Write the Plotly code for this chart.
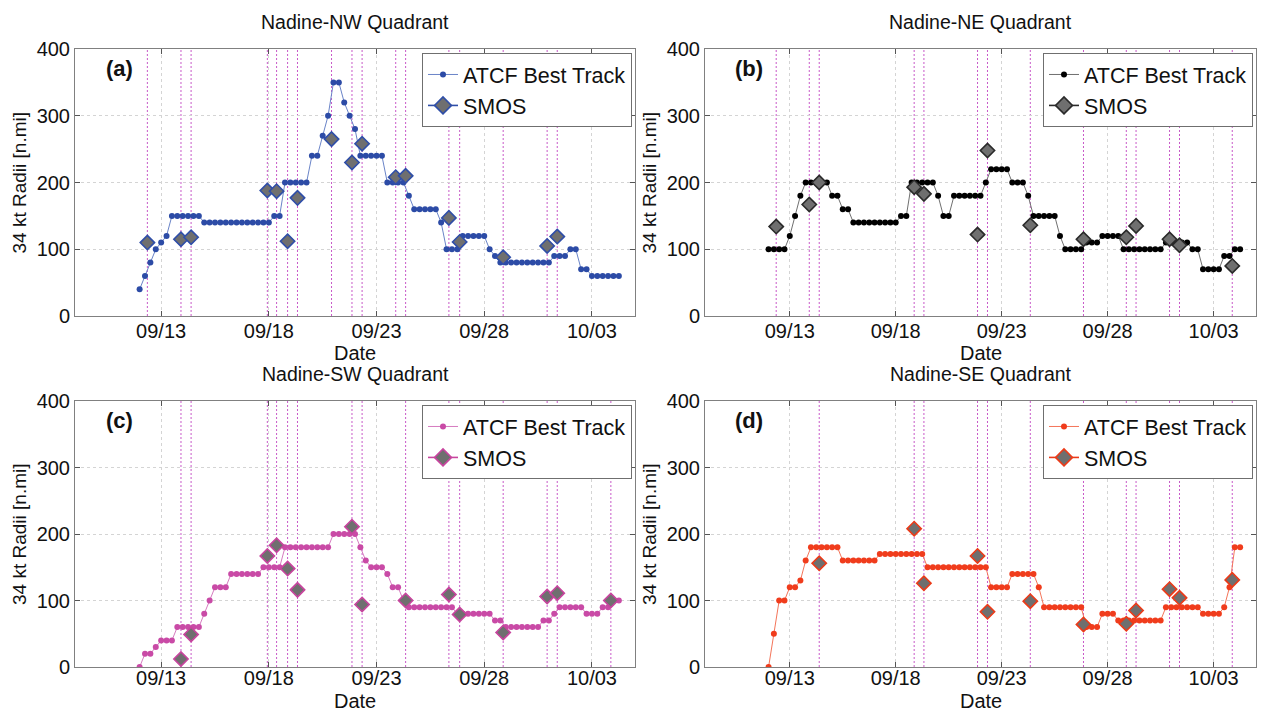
import plotly.graph_objects as go
import pandas as pd

# ---------------- data ----------------
track_start = "2012-09-12 00:00"   # ATCF best track, 6-hourly
n_track = 90

nw_track = [40, 60, 80, 100, 110, 120] + [150]*6 + [140]*13 + [150]*2 + [200]*5 + [240]*2 + [270, 300, 350, 350, 320, 300, 280] \
    + [240]*5 + [200]*4 + [180] + [160]*5 + [140] + [100]*3 + [120]*5 + [100, 90] + [80]*10 + [90]*3 + [100]*2 + [70]*2 + [60]*6
ne_track = [100]*4 + [120, 150, 180] + [200]*5 + [180]*2 + [160]*2 + [140]*9 + [150]*2 + [200]*5 + [180] + [150]*2 + [180]*6 + [200] \
    + [220]*4 + [200]*3 + [180] + [150]*5 + [120] + [100]*4 + [110]*3 + [120]*4 + [100]*8 + [110]*5 + [100]*2 + [70]*4 + [90]*2 + [100]*2
sw_track = [0, 20, 20, 30, 40, 40, 40] + [60]*5 + [80, 100] + [120]*3 + [140]*6 + [150]*4 + [180]*9 + [200]*5 + [180, 160] + [150]*3 \
    + [140] + [120]*2 + [100] + [90]*9 + [80]*7 + [70]*2 + [60]*7 + [70]*2 + [80] + [90]*5 + [80]*3 + [90]*2 + [100]*2
se_track = [0, 50, 100, 100, 120, 120, 130, 160] + [180]*6 + [160]*7 + [170]*9 + [150]*12 + [120]*4 + [140]*5 + [120] + [90]*8 \
    + [60]*3 + [80]*3 + [70]*9 + [90]*7 + [80]*4 + [90, 120, 180, 180]

nw_smos_t = ["2012-09-12 08:38", "2012-09-13 22:05", "2012-09-14 09:22", "2012-09-17 22:19", "2012-09-18 08:38",
             "2012-09-18 20:53", "2012-09-19 07:55", "2012-09-20 21:50", "2012-09-21 20:38", "2012-09-22 07:55",
             "2012-09-23 21:22", "2012-09-24 08:24", "2012-09-26 08:38", "2012-09-26 20:38", "2012-09-28 21:07",
             "2012-09-30 22:05", "2012-10-01 09:22"]
nw_smos = [110, 115, 118, 188, 187, 112, 177, 265, 230, 258, 208, 210, 147, 111, 88, 105, 119]

ne_smos_t = ["2012-09-12 08:38", "2012-09-13 22:05", "2012-09-14 09:22", "2012-09-18 20:53", "2012-09-19 07:55",
             "2012-09-21 20:38", "2012-09-22 07:55", "2012-09-24 08:24", "2012-09-26 20:38", "2012-09-28 21:07",
             "2012-09-29 08:10", "2012-09-30 22:05", "2012-10-01 09:22", "2012-10-03 21:07"]
ne_smos = [134, 167, 200, 193, 183, 122, 248, 136, 115, 118, 135, 115, 106, 75]

sw_smos_t = ["2012-09-13 22:05", "2012-09-14 09:22", "2012-09-17 22:19", "2012-09-18 08:38", "2012-09-18 20:53",
             "2012-09-19 07:55", "2012-09-21 20:38", "2012-09-22 07:55", "2012-09-24 08:24", "2012-09-26 08:38",
             "2012-09-26 20:38", "2012-09-28 21:07", "2012-09-30 22:05", "2012-10-01 09:22", "2012-10-03 21:07"]
sw_smos = [12, 49, 167, 183, 148, 116, 211, 94, 100, 109, 79, 52, 106, 111, 100]

se_smos_t = ["2012-09-14 09:22", "2012-09-18 20:53", "2012-09-19 07:55", "2012-09-21 20:38", "2012-09-22 07:55",
             "2012-09-24 08:24", "2012-09-26 20:38", "2012-09-28 21:07", "2012-09-29 08:10", "2012-09-30 22:05",
             "2012-10-01 09:22", "2012-10-03 21:07"]
se_smos = [156, 208, 126, 167, 83, 99, 64, 65, 85, 117, 104, 131]

titles = ["Nadine-NW Quadrant", "Nadine-NE Quadrant", "Nadine-SW Quadrant", "Nadine-SE Quadrant"]
labels = ["(a)", "(b)", "(c)", "(d)"]
date_ticks = ["2012-09-13", "2012-09-18", "2012-09-23", "2012-09-28", "2012-10-03"]
date_ticktext = ["09/13", "09/18", "09/23", "09/28", "10/03"]
y_ticks = [0, 100, 200, 300, 400]
x_range = ["2012-09-09", "2012-10-05"]

# ---------------- style ----------------
track_marker = ["#2c4ba6", "#000000", "#c94aa6", "#f03c1c"]
track_line = ["#6a84c8", "#707070", "#d67cc0", "#f4755a"]
smos_edge = ["#2f4ea8", "#2a2a2a", "#c8449e", "#ec3a18"]
smos_fill = "#6f6f6f"
vline_color = "rgba(190,60,190,0.85)"
FONT = "Liberation Sans, Arial, sans-serif"

W, H = 1261, 713
xdom = [[75 / W, 635 / W], [705 / W, 1256 / W], [75 / W, 635 / W], [705 / W, 1256 / W]]
ydom = [[1 - 316 / H, 1 - 49 / H], [1 - 316 / H, 1 - 49 / H], [1 - 667 / H, 1 - 401 / H], [1 - 667 / H, 1 - 401 / H]]
date_px = [37, 37, 34, 34]
tick_standoff = [-3, -3, -7, -7]

track_times = pd.date_range(track_start, periods=n_track, freq="6h")
tracks = [nw_track, ne_track, sw_track, se_track]
smos_ts = [nw_smos_t, ne_smos_t, sw_smos_t, se_smos_t]
smos_vals = [nw_smos, ne_smos, sw_smos, se_smos]

fig = go.Figure()
legends = ["legend", "legend2", "legend3", "legend4"]
shapes = []
annotations = []
for k in range(4):
    sfx = "" if k == 0 else str(k + 1)
    xa, ya = "x" + sfx, "y" + sfx
    fig.add_trace(go.Scatter(
        x=track_times, y=tracks[k], mode="lines+markers", name="ATCF Best Track",
        line=dict(color=track_line[k], width=1), marker=dict(color=track_marker[k], size=6),
        xaxis=xa, yaxis=ya, legend=legends[k]))
    fig.add_trace(go.Scatter(
        x=pd.to_datetime(smos_ts[k]), y=smos_vals[k], mode="markers", name="SMOS", showlegend=False,
        marker=dict(symbol="diamond", size=11, color=smos_fill, line=dict(color=smos_edge[k], width=1.6)),
        xaxis=xa, yaxis=ya, legend=legends[k]))
    # legend entry (line + diamond) for SMOS, no data
    fig.add_trace(go.Scatter(
        x=[None], y=[None], mode="lines+markers", name="SMOS",
        line=dict(color=smos_edge[k], width=1.6),
        marker=dict(symbol="diamond", size=13, color=smos_fill, line=dict(color=smos_edge[k], width=1.6)),
        xaxis=xa, yaxis=ya, legend=legends[k]))
    for t in smos_ts[k]:
        shapes.append(dict(type="line", xref=xa, yref=ya + " domain", x0=t, x1=t, y0=0, y1=1,
                           line=dict(color=vline_color, width=1, dash="2px,2px"), layer="below"))

    axis_common = dict(showline=True, linecolor="#808080", linewidth=1, mirror="ticks",
                       ticks="inside", ticklen=5, tickcolor="#555555", automargin=False,
                       showgrid=True, gridcolor="#d4d4d4", griddash="dot", gridwidth=1,
                       zeroline=False, tickfont=dict(family=FONT, size=20, color="#111111"))
    fig.layout["xaxis" + sfx] = dict(domain=xdom[k], anchor=ya, type="date", range=x_range,
                                     tickvals=date_ticks, ticktext=date_ticktext,
                                     ticklabelstandoff=tick_standoff[k], **axis_common)
    fig.layout["yaxis" + sfx] = dict(domain=ydom[k], anchor=xa, range=[0, 400], tickvals=y_ticks,
                                     **axis_common)

    x0p, x1p = xdom[k]
    y0p, y1p = ydom[k]
    cx = (x0p + x1p) / 2
    annotations.append(dict(text=titles[k], xref="paper", yref="paper", x=cx, y=y1p + 27 / H,
                            xanchor="center", yanchor="middle", showarrow=False,
                            font=dict(family=FONT, size=19.5, color="#111111")))
    annotations.append(dict(text="Date", xref="paper", yref="paper", x=cx, y=y0p - date_px[k] / H,
                            xanchor="center", yanchor="middle", showarrow=False,
                            font=dict(family=FONT, size=20, color="#111111")))
    annotations.append(dict(text="34 kt Radii [n.mi]", xref="paper", yref="paper", x=x0p - 56 / W,
                            y=(y0p + y1p) / 2, xanchor="center", yanchor="middle", textangle=-90,
                            showarrow=False, font=dict(family=FONT, size=19, color="#111111")))
    annotations.append(dict(text="<b>" + labels[k] + "</b>", xref="paper", yref="paper", x=x0p + 44 / W,
                            y=y1p - 19 / H, xanchor="center", yanchor="middle", showarrow=False,
                            font=dict(family=FONT, size=22, color="#111111")))

    leg = dict(x=x1p - 3 / W, y=y1p - 4 / H, xanchor="right", yanchor="top",
               bgcolor="white", bordercolor="#6f6f6f", borderwidth=1,
               font=dict(family=FONT, size=21.5, color="#111111"), tracegroupgap=0)
    fig.layout[legends[k]] = leg

fig.update_layout(width=W, height=H, margin=dict(l=0, r=0, t=0, b=0, autoexpand=False),
                  paper_bgcolor="white", plot_bgcolor="white",
                  shapes=shapes, annotations=annotations,
                  font=dict(family=FONT, color="#111111"))

fig.write_html("out.html", config={"displayModeBar": False},
               post_script="document.body.style.margin='0';document.body.style.overflow='hidden';")
